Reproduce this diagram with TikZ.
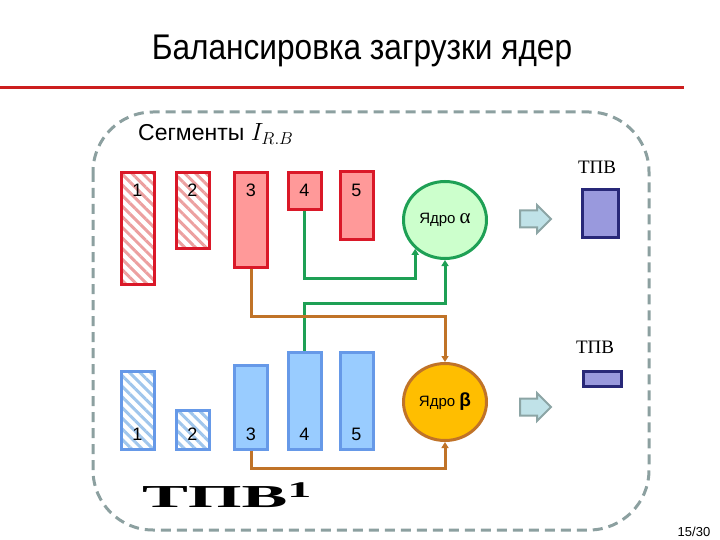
\documentclass[tikz,border=0pt]{standalone}
\usepackage{fontspec}
\setmainfont{Liberation Sans}
\newfontfamily\serif{Liberation Serif}
\usetikzlibrary{shapes.geometric,arrows.meta,patterns.meta}
\definecolor{redB}{RGB}{218,24,40}
\definecolor{redF}{RGB}{255,153,153}
\definecolor{redH}{RGB}{236,160,160}
\definecolor{bluB}{RGB}{102,153,232}
\definecolor{bluF}{RGB}{153,204,255}
\definecolor{bluH}{RGB}{160,198,236}
\definecolor{grnL}{RGB}{30,160,85}
\definecolor{grnF}{RGB}{204,255,204}
\definecolor{brnL}{RGB}{192,115,40}
\definecolor{orgF}{RGB}{255,190,0}
\definecolor{arrF}{RGB}{192,226,232}
\definecolor{arrB}{RGB}{140,165,165}
\definecolor{tpvF}{RGB}{153,153,221}
\definecolor{tpvB}{RGB}{40,40,120}
\definecolor{dashC}{RGB}{140,160,160}
\definecolor{titleR}{RGB}{204,30,30}
\tikzset{
  bar/.style={draw, line width=3pt, inner sep=0pt, minimum width=33pt},
  redbar/.style={bar, draw=redB, fill=redF},
  redhatch/.style={bar, draw=redB, fill=white, pattern={Lines[angle=-45,distance=7.5pt,line width=3pt]}, pattern color=redH},
  blubar/.style={bar, draw=bluB, fill=bluF},
  bluhatch/.style={bar, draw=bluB, fill=white, pattern={Lines[angle=-45,distance=7.5pt,line width=3pt]}, pattern color=bluH},
  num/.style={font=\fontsize{18}{20}\selectfont, inner sep=0pt},
  core/.style={ellipse, line width=3pt, inner sep=0pt, minimum width=83pt, minimum height=77pt},
  gconn/.style={draw=grnL, line width=3pt, -{Triangle[length=6pt,width=7pt]}},
  bconn/.style={draw=brnL, line width=3pt, -{Triangle[length=6pt,width=7pt]}},
  tpv/.style={draw=tpvB, fill=tpvF, line width=3pt, inner sep=0pt},
  tpvlab/.style={font=\serif\fontsize{19}{21}\selectfont, inner sep=0pt},
  barrow/.style={draw=arrB, fill=arrF, line width=2pt, line join=miter}
}
\begin{document}
\begin{tikzpicture}[x=1pt,y=-1pt]
\useasboundingbox (0,0) rectangle (720,540);
% title
\node[anchor=base, inner sep=0pt, font=\fontsize{31}{34}\selectfont] (title) at (362,60) {\scalebox{1.02}[1.15]{Балансировка загрузки ядер}};
\draw[titleR, line width=3pt] (0,88) -- (684,88);
% dashed frame
\draw[dashC, line width=3pt, dash pattern=on 10pt off 6pt, rounded corners=60pt] (93,112) rectangle (649,530);
\node[anchor=base west, inner sep=0pt, font=\fontsize{23}{26}\selectfont] (seg) at (138,141) {Сегменты $I_{R.B}$};
% top red bars
\node[redhatch, minimum height=111pt] (r1) at (137.5,228.5) {};
\node[redhatch, minimum height=75pt] (r2) at (192.5,210.5) {};
\node[redbar, minimum height=94pt] (r3) at (251,220) {};
\node[redbar, minimum height=37pt] (r4) at (304.5,191.5) {};
\node[redbar, minimum height=67pt] (r5) at (356.5,205.5) {};
\foreach \i/\x in {1/137.5,2/192.5,3/251,4/304.5,5/356.5}
  \node[num] (rn\i) at (\x,190) {\i};
% bottom blue bars
\node[bluhatch, minimum height=78pt] (b1) at (137.5,410) {};
\node[bluhatch, minimum height=39pt] (b2) at (192.5,429.5) {};
\node[blubar, minimum height=84pt] (b3) at (251,407) {};
\node[blubar, minimum height=97pt] (b4) at (304.5,400.5) {};
\node[blubar, minimum height=97pt] (b5) at (356.5,400.5) {};
\foreach \i/\x in {1/137.5,2/192.5,3/251,4/304.5,5/356.5}
  \node[num] (bn\i) at (\x,434) {\i};
% cores
\node[core, draw=grnL, fill=grnF] (ea) at (445,220) {\fontsize{15}{17}\selectfont Ядро {\serif\fontsize{21}{20}\selectfont α}};
\node[core, draw=brnL, fill=orgF] (eb) at (445,402) {\fontsize{15}{17}\selectfont Ядро {\bfseries\fontsize{19}{20}\selectfont β}};
% connectors
\draw[gconn] (r4.south) -- ++(0,67) -| (ea.-136);
\draw[gconn] (b4.north) -- ++(0,-47) -| (ea.south);
\draw[bconn] (r3.south) -- ++(0,48) -| (eb.north);
\draw[bconn] (b3.south) -- ++(0,18) -| (eb.south);
% block arrows
\draw[barrow] (520,210.5) -- (537,210.5) -- (537,205) -- (551,219) -- (537,233) -- (537,227.5) -- (520,227.5) -- cycle;
\draw[barrow] (520,398.5) -- (537,398.5) -- (537,393) -- (551,407) -- (537,421) -- (537,415.5) -- (520,415.5) -- cycle;
% TPV
\node[tpvlab] (t1) at (597,167) {ТПВ};
\node[tpv, minimum width=36pt, minimum height=47pt] (p1) at (600,213.5) {};
\node[tpvlab] (t2) at (595,347) {ТПВ};
\node[tpv, minimum width=38pt, minimum height=15pt] (p2) at (602,378.5) {};
% big label
\node[anchor=base west, inner sep=0pt, font=\serif\bfseries\fontsize{32}{34}\selectfont] (big) at (142,507) {\scalebox{2.15}[1]{ТПВ\textsuperscript{1}}};
% page number
\node[inner sep=0pt, font=\fontsize{13}{15}\selectfont] (pg) at (694,532) {15/30};
\end{tikzpicture}
\end{document}
